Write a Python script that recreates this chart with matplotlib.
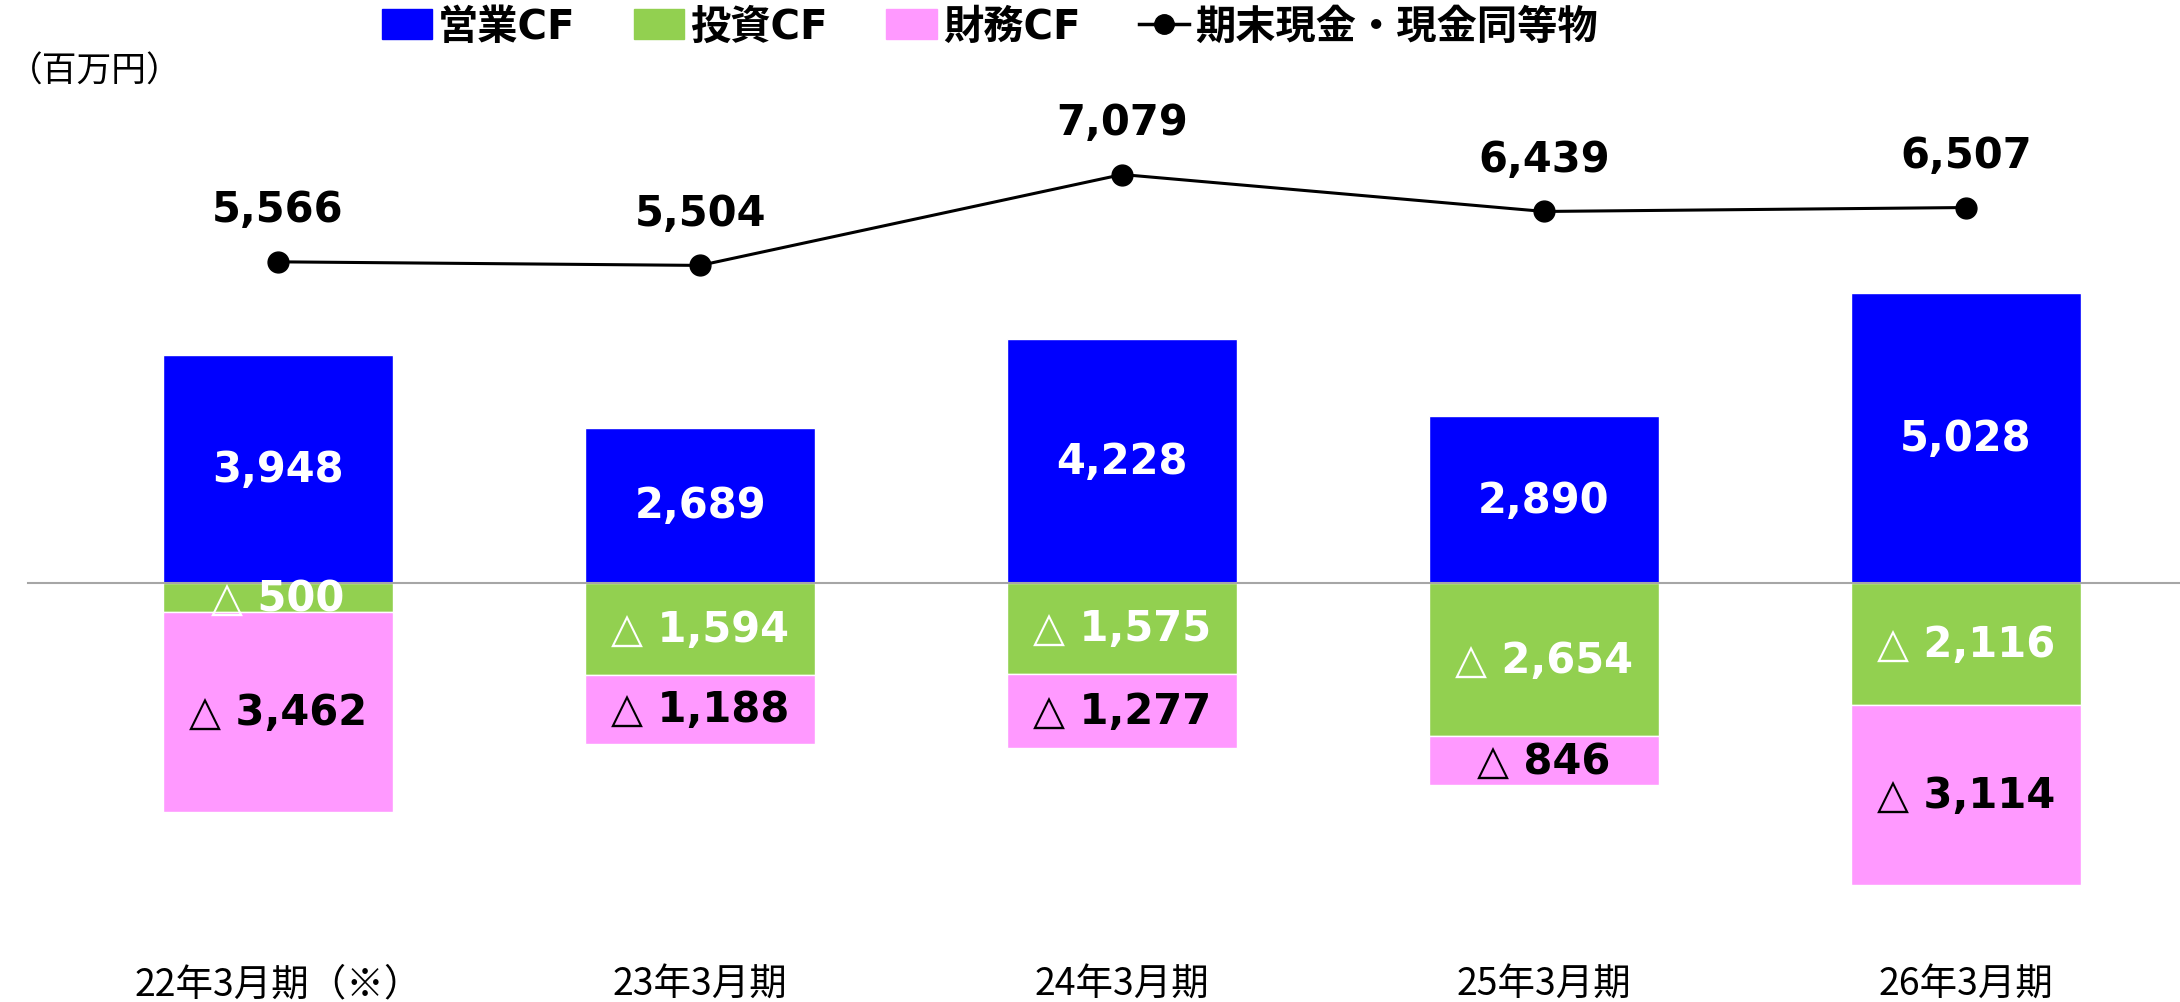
import matplotlib
matplotlib.use('Agg')
import matplotlib.pyplot as plt
from matplotlib.patches import Patch
from matplotlib.lines import Line2D

# data (百万円)
periods = ['22年3月期（※）', '23年3月期', '24年3月期', '25年3月期', '26年3月期']
cf_op = [3948, 2689, 4228, 2890, 5028]
cf_inv = [-500, -1594, -1575, -2654, -2116]
cf_fin = [-3462, -1188, -1277, -846, -3114]
cash_end = [5566, 5504, 7079, 6439, 6507]
legend_labels = ['営業CF', '投資CF', '財務CF', '期末現金・現金同等物']

C_OP = '#0000FF'
C_INV = '#92D050'
C_FIN = '#FF99FF'

JP = ['Noto Sans CJK JP', 'DejaVu Sans']
LEG = ['DejaVu Sans', 'Noto Sans CJK JP']
NUM = ['DejaVu Sans']


def fmt(v):
    if v < 0:
        return '△ {:,}'.format(-v)
    return '{:,}'.format(v)


def plot_cf():
    fig = plt.figure(figsize=(21.8, 10.03), dpi=100)
    ax = fig.add_axes([0, 53 / 1003, 1, 950 / 1003])
    x = list(range(len(periods)))
    w = 0.546

    ax.bar(x, cf_op, w, color=C_OP, edgecolor='white', linewidth=1, zorder=2)
    ax.bar(x, cf_inv, w, color=C_INV, edgecolor='white', linewidth=1, zorder=2)
    ax.bar(x, cf_fin, w, bottom=cf_inv, color=C_FIN, edgecolor='white', linewidth=1, zorder=2)
    ax.axhline(0, xmin=28 / 2180, xmax=1, color='#A6A6A6', linewidth=1.5, zorder=3)

    ax.plot(x, cash_end, color='black', linewidth=2.2, marker='o', markersize=15, zorder=4)

    for i in x:
        ax.text(i, cf_op[i] / 2, fmt(cf_op[i]), ha='center', va='center',
                color='white', fontsize=30, fontweight='bold', family=NUM, zorder=5)
        ax.text(i, cf_inv[i] / 2, fmt(cf_inv[i]), ha='center', va='center',
                color='white', fontsize=30, fontweight='bold', family=NUM, zorder=5)
        ax.text(i, cf_inv[i] + cf_fin[i] / 2, fmt(cf_fin[i]), ha='center', va='center',
                color='black', fontsize=30, fontweight='bold', family=NUM, zorder=5)
        ax.annotate(fmt(cash_end[i]), (i, cash_end[i]), xytext=(0, 38),
                    textcoords='offset points', ha='center', va='center',
                    fontsize=30, fontweight='bold', family=NUM, zorder=5)

    ax.set_xlim(-0.659, 4.507)
    ax.set_ylim(-6343, 10121)
    ax.set_xticks(x)
    ax.set_xticklabels(periods, fontsize=27, family=JP)
    ax.tick_params(axis='x', length=0, pad=11)
    ax.set_yticks([])
    for s in ax.spines.values():
        s.set_visible(False)

    fig.text(8 / 2180, 1 - 72 / 1003, '（百万円）', fontsize=25, family=JP,
             ha='left', va='center')

    handles = [Patch(color=C_OP), Patch(color=C_INV), Patch(color=C_FIN),
               Line2D([], [], color='black', linewidth=2.5, marker='o', markersize=14)]
    fig.legend(handles, legend_labels, loc='center', bbox_to_anchor=(0.454, 1 - 28 / 1003),
               ncol=4, frameon=False, prop={'family': LEG, 'size': 29, 'weight': 'bold'},
               handlelength=1.25, handleheight=0.75, handletextpad=0.15, columnspacing=1.45)

    fig.savefig('out.png', dpi=100)


if __name__ == '__main__':
    plot_cf()
